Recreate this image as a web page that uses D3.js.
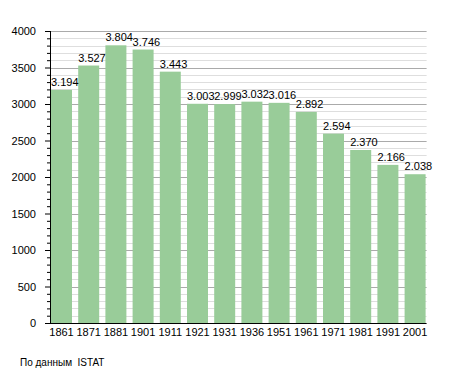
<!DOCTYPE html>
<html>
<head>
<meta charset="utf-8">
<script src="https://cdn.jsdelivr.net/npm/d3@7"></script>
<style>
  body { margin: 0; background: #fff; }
  text { font-family: "Liberation Sans", Arial, sans-serif; fill: #000; }
</style>
</head>
<body>
<svg id="chart" width="455" height="373"></svg>
<script>
const years = ["1861", "1871", "1881", "1901", "1911", "1921", "1931", "1936", "1951", "1961", "1971", "1981", "1991", "2001"];
const population = [3194, 3527, 3804, 3746, 3443, 3003, 2999, 3032, 3016, 2892, 2594, 2370, 2166, 2038];
const yTicks = [0, 500, 1000, 1500, 2000, 2500, 3000, 3500, 4000];
const source = "По данным  ISTAT";

const svg = d3.select("#chart");
const plotLeft = 50, plotRight = 426.6, plotTop = 31, plotBottom = 323;

const x = d3.scaleBand()
  .domain(years)
  .range([plotLeft, plotRight])
  .paddingInner(0.228)
  .paddingOuter(0.037);

const y = d3.scaleLinear().domain([0, 4000]).range([plotBottom, plotTop]);

const fmt = v => d3.format(",")(v).replace(",", ".");

// minor grid every 100
const minor = d3.range(100, 4001, 100).filter(v => v % 500 !== 0);
svg.append("g")
  .selectAll("line")
  .data(minor)
  .enter()
  .append("line")
  .attr("x1", plotLeft).attr("x2", plotRight)
  .attr("y1", d => Math.round(y(d)) + 0.5)
  .attr("y2", d => Math.round(y(d)) + 0.5)
  .attr("stroke", "#dedede");

svg.append("g")
  .selectAll("line")
  .data(yTicks.slice(1))
  .enter()
  .append("line")
  .attr("x1", plotLeft).attr("x2", plotRight)
  .attr("y1", d => Math.round(y(d)) + 0.5)
  .attr("y2", d => Math.round(y(d)) + 0.5)
  .attr("stroke", "#aaa");

// bars
svg.append("g")
  .selectAll("rect")
  .data(population)
  .enter()
  .append("rect")
  .attr("x", (d, i) => x(years[i]))
  .attr("y", d => y(d))
  .attr("width", x.bandwidth())
  .attr("height", d => y(0) - y(d))
  .attr("fill", "#99cc99");

// value labels
svg.append("g")
  .selectAll("text")
  .data(population)
  .enter()
  .append("text")
  .attr("x", (d, i) => x(years[i]))
  .attr("y", d => y(d) - 4)
  .style("font-size", "11px")
  .text(fmt);

// y axis
const yAxis = d3.axisLeft(y).tickValues(yTicks).tickSize(5).tickPadding(9).tickFormat(d3.format("d"));
const gy = svg.append("g").attr("transform", `translate(${plotLeft},0)`).call(yAxis);
gy.select(".domain").remove();
gy.selectAll("text").style("font-size", "11px").attr("font-family", null);
gy.selectAll("line").attr("stroke", "#000");

const yMinor = d3.axisLeft(y).tickValues(minor).tickSize(3).tickFormat("");
const gm = svg.append("g").attr("transform", `translate(${plotLeft},0)`).call(yMinor);
gm.select(".domain").remove();
gm.selectAll("line").attr("stroke", "#000");

svg.append("line")
  .attr("x1", plotLeft + 0.5).attr("x2", plotLeft + 0.5)
  .attr("y1", plotTop).attr("y2", plotBottom + 1)
  .attr("stroke", "#000");

// x axis
const gx = svg.append("g").attr("transform", `translate(0,${plotBottom})`)
  .call(d3.axisBottom(x).tickSize(0).tickPadding(5));
gx.select(".domain").attr("d", `M${plotLeft},0.5H${plotRight}`).attr("stroke", "#000");
gx.selectAll("text").style("font-size", "11px").attr("font-family", null);

svg.append("text")
  .attr("x", 20)
  .attr("y", 366)
  .style("font-size", "10px")
  .style("white-space", "pre")
  .text(source);
</script>
</body>
</html>
